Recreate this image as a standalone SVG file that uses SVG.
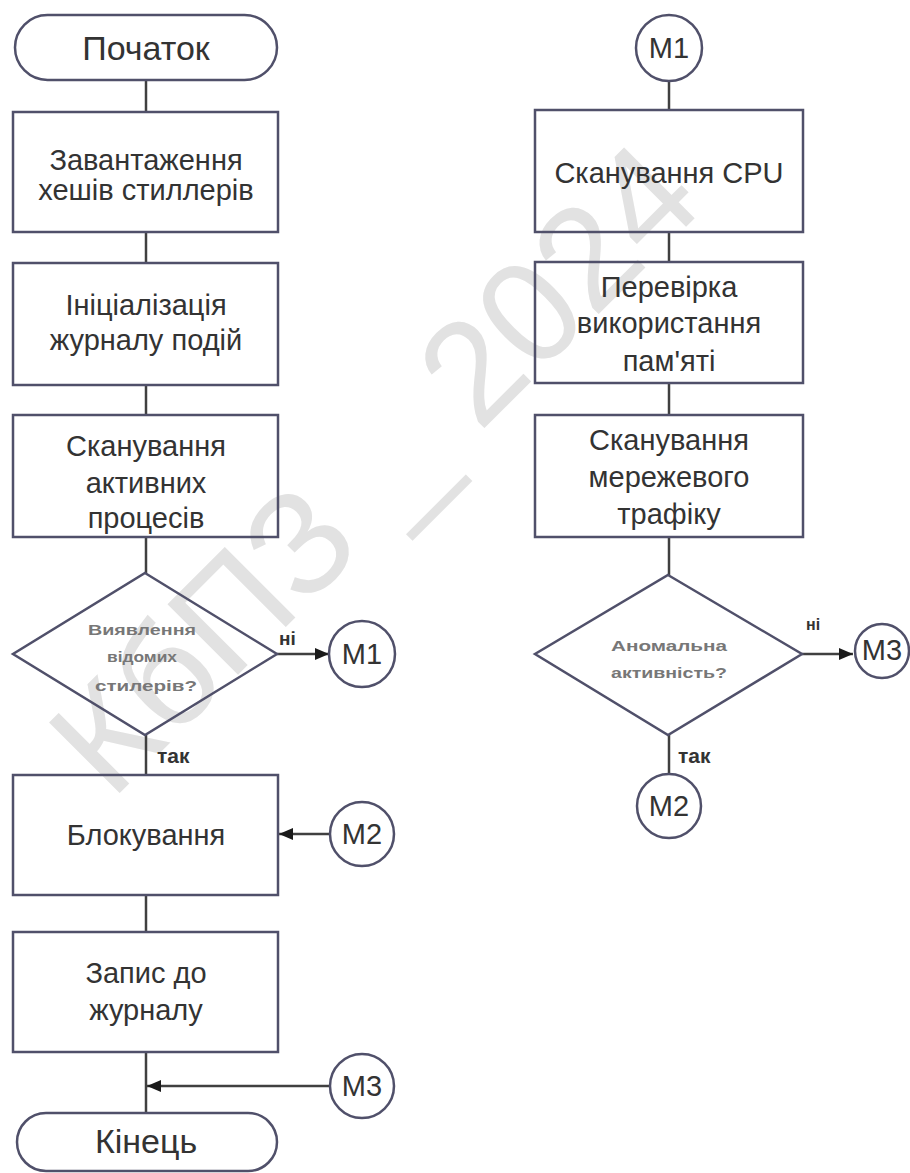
<svg xmlns="http://www.w3.org/2000/svg" width="910" height="1173" viewBox="0 0 910 1173">
<style>
.shape{fill:none;stroke:#50506a;stroke-width:2.5}
.conn{fill:none;stroke:#404040;stroke-width:2.5}
.t{font-family:"Liberation Sans",Arial,sans-serif;font-size:29px;fill:#333;text-anchor:middle}
.term{font-size:34px}
.dt{font-family:"Liberation Sans",Arial,sans-serif;font-size:15px;font-weight:bold;fill:#777;text-anchor:middle}
.lbl{font-family:"Liberation Sans",Arial,sans-serif;font-weight:bold;fill:#333}
.wm{font-family:"Liberation Sans",Arial,sans-serif;font-size:145px;fill:#e2e2e2;text-anchor:middle}
</style>
<defs>
<marker id="arr" viewBox="0 0 14 12" refX="14" refY="6" markerWidth="14" markerHeight="12" markerUnits="userSpaceOnUse" orient="auto">
<path d="M0,0 L14,6 L0,12 Z" fill="#1a1a1a"/>
</marker>
</defs>
<rect width="910" height="1173" fill="#ffffff"/>
<g id="watermark">
<text class="wm" x="374" y="468" dominant-baseline="central" transform="rotate(-45 374 468)">КбПЗ _ 2024</text>
</g>
<g id="connectors">
<line class="conn" x1="146" y1="80" x2="146" y2="112"/>
<line class="conn" x1="146" y1="232" x2="146" y2="263"/>
<line class="conn" x1="146" y1="385" x2="146" y2="415"/>
<line class="conn" x1="146" y1="537" x2="146" y2="573"/>
<line class="conn" x1="146" y1="735" x2="146" y2="775"/>
<line class="conn" x1="146" y1="895" x2="146" y2="932"/>
<line class="conn" x1="146" y1="1052" x2="146" y2="1113"/>
<line class="conn" x1="277" y1="654" x2="329" y2="654" marker-end="url(#arr)"/>
<line class="conn" x1="329" y1="834" x2="279" y2="834" marker-end="url(#arr)"/>
<line class="conn" x1="329" y1="1086" x2="147" y2="1086" marker-end="url(#arr)"/>
<line class="conn" x1="669" y1="81" x2="669" y2="110"/>
<line class="conn" x1="669" y1="232" x2="669" y2="262"/>
<line class="conn" x1="669" y1="383" x2="669" y2="415"/>
<line class="conn" x1="669" y1="537" x2="669" y2="575"/>
<line class="conn" x1="669" y1="735" x2="669" y2="774"/>
<line class="conn" x1="802" y1="654" x2="853" y2="654" marker-end="url(#arr)"/>
<text class="lbl" x="279" y="645" font-size="19">ні</text>
<text class="lbl" x="157" y="763" font-size="21">так</text>
<text class="lbl" x="806" y="630" font-size="16">ні</text>
<text class="lbl" x="678" y="763" font-size="21">так</text>
</g>
<g id="start">
<rect class="shape" x="15" y="15" width="262" height="65" rx="32.5"/>
<text class="t term" x="146" y="60">Початок</text>
</g>
<g id="load-hashes">
<rect class="shape" x="13" y="112" width="265" height="120"/>
<text class="t" x="146" y="170">Завантаження</text>
<text class="t" x="146" y="200">хешів стиллерів</text>
</g>
<g id="init-log">
<rect class="shape" x="13" y="263" width="265" height="122"/>
<text class="t" x="146" y="315">Ініціалізація</text>
<text class="t" x="146" y="350">журналу подій</text>
</g>
<g id="scan-processes">
<rect class="shape" x="13" y="415" width="265" height="122"/>
<text class="t" x="146" y="456">Сканування</text>
<text class="t" x="146" y="493">активних</text>
<text class="t" x="146" y="528">процесів</text>
</g>
<g id="decision-stealers">
<polygon class="shape" points="145,573 277,654 145,735 13,654"/>
<text class="dt" x="142" y="635" textLength="108" lengthAdjust="spacingAndGlyphs">Виявлення</text>
<text class="dt" x="142" y="662" textLength="70" lengthAdjust="spacingAndGlyphs">відомих</text>
<text class="dt" x="146" y="691" textLength="102" lengthAdjust="spacingAndGlyphs">стилерів?</text>
</g>
<g id="m1-out">
<circle class="shape" cx="362" cy="654" r="33"/>
<text class="t" x="362" y="664" font-size="27">M1</text>
</g>
<g id="block">
<rect class="shape" x="13" y="775" width="265" height="120"/>
<text class="t" x="146" y="845">Блокування</text>
</g>
<g id="m2-in">
<circle class="shape" cx="362" cy="834" r="32"/>
<text class="t" x="362" y="844" font-size="27">M2</text>
</g>
<g id="write-log">
<rect class="shape" x="13" y="932" width="265" height="120"/>
<text class="t" x="146" y="983">Запис до</text>
<text class="t" x="146" y="1020">журналу</text>
</g>
<g id="m3-in">
<circle class="shape" cx="362" cy="1086" r="32"/>
<text class="t" x="362" y="1096" font-size="27">M3</text>
</g>
<g id="end">
<rect class="shape" x="17" y="1113" width="260" height="58" rx="29"/>
<text class="t term" x="146" y="1153">Кінець</text>
</g>
<g id="m1-in">
<circle class="shape" cx="669" cy="48" r="33"/>
<text class="t" x="669" y="58" font-size="27">M1</text>
</g>
<g id="scan-cpu">
<rect class="shape" x="535" y="110" width="268" height="122"/>
<text class="t" x="669" y="183">Сканування CPU</text>
</g>
<g id="check-memory">
<rect class="shape" x="535" y="262" width="268" height="121"/>
<text class="t" x="669" y="297">Перевірка</text>
<text class="t" x="669" y="333">використання</text>
<text class="t" x="669" y="371">пам'яті</text>
</g>
<g id="scan-network">
<rect class="shape" x="535" y="415" width="268" height="122"/>
<text class="t" x="669" y="450">Сканування</text>
<text class="t" x="669" y="487">мережевого</text>
<text class="t" x="669" y="524">трафіку</text>
</g>
<g id="decision-anomaly">
<polygon class="shape" points="668,575 802,654 668,735 535,654"/>
<text class="dt" x="669" y="651" textLength="116" lengthAdjust="spacingAndGlyphs">Аномальна</text>
<text class="dt" x="669" y="678" textLength="116" lengthAdjust="spacingAndGlyphs">активність?</text>
</g>
<g id="m3-out">
<circle class="shape" cx="882" cy="651" r="27"/>
<text class="t" x="882" y="660" font-size="24">M3</text>
</g>
<g id="m2-out">
<circle class="shape" cx="669" cy="806" r="32"/>
<text class="t" x="669" y="816" font-size="27">M2</text>
</g>
</svg>
